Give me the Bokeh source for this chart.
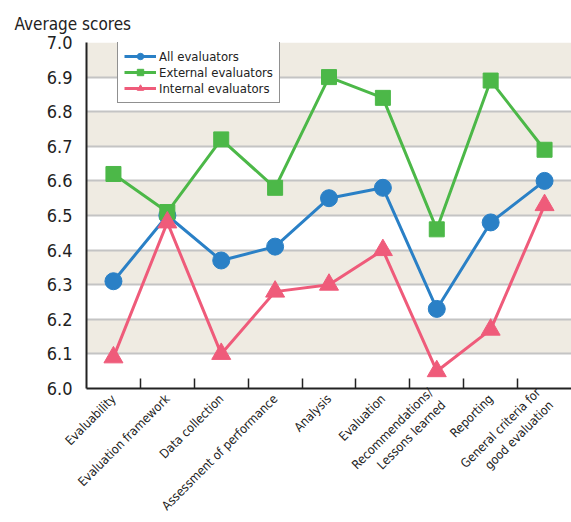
from math import pi

from bokeh.embed import file_html
from bokeh.resources import INLINE
from bokeh.plotting import figure
from bokeh.models import (ColumnDataSource, FixedTicker, Legend, LegendItem,
                          PrintfTickFormatter, Range1d)

categories = [
    "Evaluability",
    "Evaluation framework",
    "Data collection",
    "Assessment of performance",
    "Analysis",
    "Evaluation",
    "Recommendations/\nLessons learned",
    "Reporting",
    "General criteria for\ngood evaluation",
]
all_evaluators = [6.31, 6.50, 6.37, 6.41, 6.55, 6.58, 6.23, 6.48, 6.60]
external_evaluators = [6.62, 6.51, 6.72, 6.58, 6.90, 6.84, 6.46, 6.89, 6.69]
internal_evaluators = [6.09, 6.48, 6.10, 6.28, 6.30, 6.40, 6.05, 6.17, 6.53]
y_ticks = [6.0, 6.1, 6.2, 6.3, 6.4, 6.5, 6.6, 6.7, 6.8, 6.9, 7.0]

FONT = "DejaVu Sans Condensed"
TEXT = "#222222"
BLUE = "#2a80c6"
GREEN = "#4cb848"
PINK = "#ef5b7a"

n = len(categories)
centers = [i + 0.5 for i in range(n)]
boundaries = list(range(1, n))
source = ColumnDataSource(dict(
    x=centers,
    all=all_evaluators,
    ext=external_evaluators,
    int=internal_evaluators,
))

p = figure(width=571, height=522, output_backend="svg", toolbar_location=None,
           x_range=Range1d(0, n), y_range=Range1d(6.0, 7.0))
p.min_border_left = 86
p.min_border_right = 0
p.min_border_top = 42
p.min_border_bottom = 134
p.outline_line_color = None
p.background_fill_color = "white"
p.border_fill_color = "white"

p.title.text = "Average scores"
p.title.text_font = FONT
p.title.text_font_size = "17px"
p.title.text_font_style = "normal"
p.title.text_color = TEXT
p.title.offset = -72
p.title.standoff = 18

# horizontal grid with alternating bands
p.ygrid.ticker = FixedTicker(ticks=y_ticks)
p.ygrid.grid_line_color = "#c4c4c4"
p.ygrid.grid_line_width = 2
p.ygrid.band_fill_color = "#efebe2"
p.ygrid.band_fill_alpha = 1.0
p.xgrid.grid_line_color = None

# labels at category centres, short inward ticks at category boundaries
p.xaxis.ticker = FixedTicker(ticks=centers, minor_ticks=boundaries)
p.xaxis.major_label_overrides = {c: lab for c, lab in zip(centers, categories)}
p.xaxis.major_label_orientation = pi / 4
p.xaxis.major_tick_line_color = None
p.xaxis.minor_tick_line_color = TEXT
p.xaxis.minor_tick_line_width = 1.5
p.xaxis.minor_tick_in = 10
p.xaxis.minor_tick_out = 0
p.xaxis.axis_line_color = TEXT
p.xaxis.axis_line_width = 2
p.xaxis.major_label_text_font = FONT
p.xaxis.major_label_text_font_size = "12.5px"
p.xaxis.major_label_text_color = TEXT
p.xaxis.major_label_standoff = 2

p.yaxis.ticker = FixedTicker(ticks=y_ticks)
p.yaxis.formatter = PrintfTickFormatter(format="%.1f")
p.yaxis.major_tick_line_color = None
p.yaxis.minor_tick_line_color = None
p.yaxis.axis_line_color = TEXT
p.yaxis.axis_line_width = 2
p.yaxis.major_label_text_font = FONT
p.yaxis.major_label_text_font_size = "18px"
p.yaxis.major_label_text_color = TEXT
p.yaxis.major_label_standoff = 8

l1 = p.line("x", "all", source=source, line_color=BLUE, line_width=3)
m1 = p.scatter("x", "all", source=source, marker="circle", size=17,
               fill_color=BLUE, line_color=BLUE)
l2 = p.line("x", "ext", source=source, line_color=GREEN, line_width=3)
m2 = p.scatter("x", "ext", source=source, marker="square", size=15,
               fill_color=GREEN, line_color=GREEN)
l3 = p.line("x", "int", source=source, line_color=PINK, line_width=3)
m3 = p.scatter("x", "int", source=source, marker="triangle", size=19,
               fill_color=PINK, line_color=PINK)

legend = Legend(items=[
    LegendItem(label="All evaluators", renderers=[l1, m1]),
    LegendItem(label="External evaluators", renderers=[l2, m2]),
    LegendItem(label="Internal evaluators", renderers=[l3, m3]),
], location=(31, 285))
legend.label_text_font = FONT
legend.label_text_font_size = "13px"
legend.label_text_color = TEXT
legend.label_height = 16
legend.glyph_height = 16
legend.glyph_width = 32
legend.spacing = 0
legend.padding = 6
legend.margin = 0
legend.label_standoff = 3
legend.border_line_color = TEXT
legend.border_line_width = 1
legend.background_fill_alpha = 1.0
p.add_layout(legend, "center")

open("out.html", "w").write(file_html(p, INLINE))
